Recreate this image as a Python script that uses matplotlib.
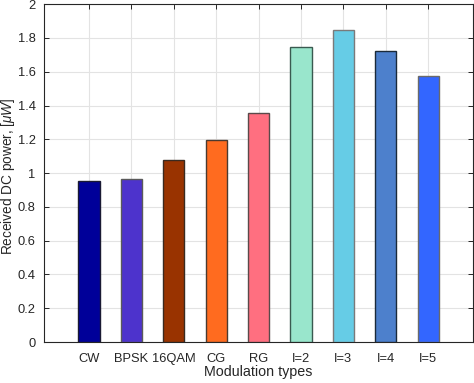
import numpy as np
import matplotlib.pyplot as plt

plt.rcParams['font.family'] = ['Liberation Sans', 'DejaVu Sans']
plt.rcParams['mathtext.fontset'] = 'custom'
plt.rcParams['mathtext.it'] = 'Liberation Sans:italic'
plt.rcParams['mathtext.rm'] = 'Liberation Sans'

labels = ['CW', 'BPSK', '16QAM', 'CG', 'RG', 'I=2', 'I=3', 'I=4', 'I=5']
power = [0.952, 0.968, 1.077, 1.198, 1.355, 1.745, 1.845, 1.722, 1.576]
colors = ['#000099', '#4d33cc', '#993300', '#ff6b1f', '#ff6f80',
          '#99e6cc', '#66cce6', '#4d80cc', '#3366ff']
edges = ['#1a1a33', '#5a5a5a', '#3a2a20', '#4a3a30', '#5a4a4a',
         '#3a5a50', '#7a7a7a', '#1a2a3a', '#6a6a6a']

fig = plt.figure(figsize=(4.74, 3.83), dpi=100)
ax = fig.add_axes([0.093, 0.107, 0.905, 0.882])

x = np.arange(1, len(labels) + 1)
ax.bar(x, power, width=0.5, color=colors, edgecolor=edges, linewidth=1.0, zorder=3)

ax.set_xlim(-0.06, 10.06)
ax.set_ylim(0, 2)
ax.set_xticks(x)
ax.set_xticklabels(labels)
ax.set_yticks(np.arange(0, 2.01, 0.2))
ax.set_yticklabels(['0', '0.2', '0.4', '0.6', '0.8', '1', '1.2', '1.4', '1.6', '1.8', '2'])

ax.grid(True, color='#e3e3e3', linewidth=0.8, zorder=0)
ax.set_axisbelow(True)
ax.tick_params(direction='in', top=True, right=True, length=3.5, width=0.7,
               color='#262626', labelsize=9.3, labelcolor='#262626')
ax.tick_params(axis='x', pad=8)
ax.tick_params(axis='y', pad=6)
for s in ax.spines.values():
    s.set_color('#262626')
    s.set_linewidth(0.8)

ax.set_xlabel('Modulation types', fontsize=10.3, color='#262626', labelpad=0)
ax.set_ylabel(r'Received DC power, [$\mu W$]', fontsize=9.8, color='#262626')
ax.yaxis.set_label_coords(-0.062, 0.49)

fig.savefig('out.png', dpi=100)
